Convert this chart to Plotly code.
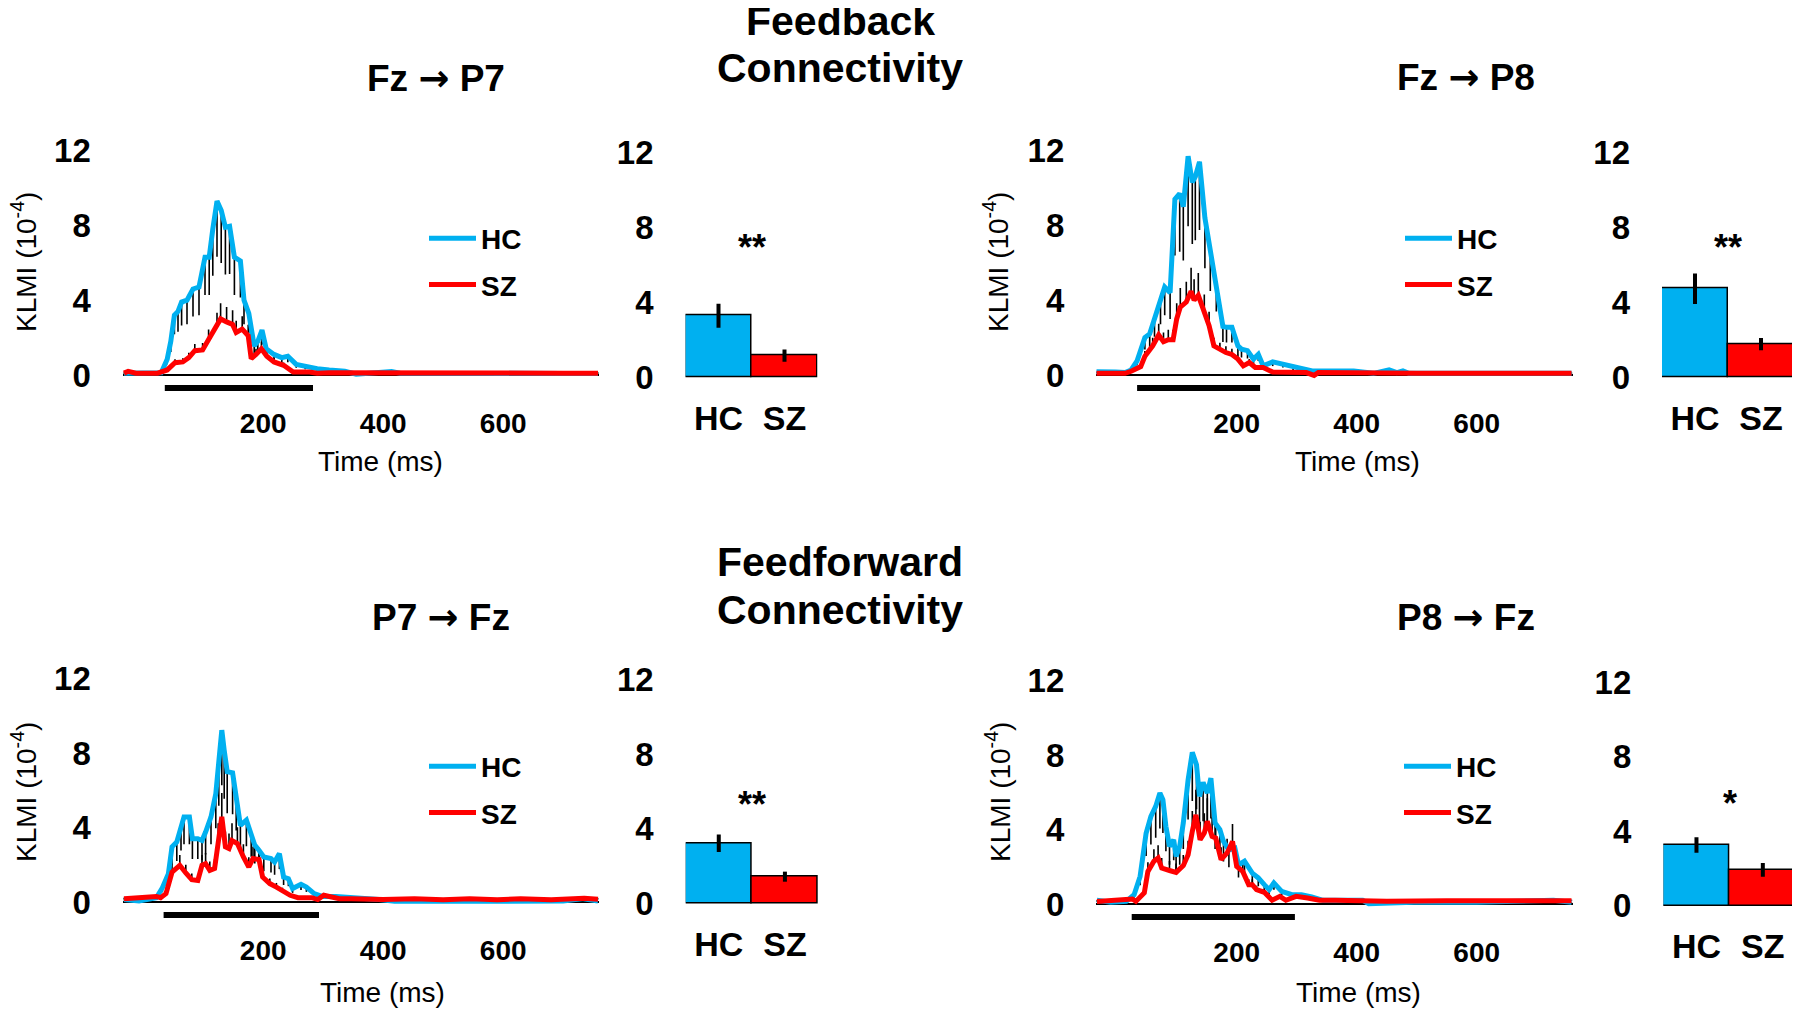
import plotly.graph_objects as go

# ---------------- data ----------------
panel_titles = ["Fz \u2192 P7", "Fz \u2192 P8", "P7 \u2192 Fz", "P8 \u2192 Fz"]
group_titles = [["Feedback", "Connectivity"], ["Feedforward", "Connectivity"]]
groups = ["HC", "SZ"]

# Fz -> P7
t_fzp7_hc = [-32, -10, 10, 30, 40, 46, 52, 58, 64, 73, 83, 93, 103, 110, 116, 123, 130, 137, 144, 152,
             162, 168, 176, 185, 191, 198, 205, 218, 231, 241, 255, 270, 290, 310, 336, 355, 388, 414,
             428, 500, 600, 700, 758]
v_fzp7_hc = [0.1, 0.1, 0.08, 0.12, 0.84, 1.8, 3.2, 3.4, 3.9, 4.0, 4.6, 4.7, 6.3, 6.3, 7.8, 9.3, 8.8, 7.9,
             7.95, 6.3, 6.1, 4.0, 3.3, 1.55, 1.8, 2.4, 1.4, 1.1, 0.93, 1.0, 0.57, 0.45, 0.34, 0.27, 0.2,
             0.04, 0.12, 0.18, 0.1, 0.08, 0.08, 0.08, 0.08]
t_fzp7_sz = [-32, -25, -12, 24, 40, 53, 66, 76, 86, 99, 109, 123, 129, 139, 149, 155, 165, 175, 180, 188,
             197, 206, 218, 234, 250, 277, 290, 310, 400, 420, 500, 600, 700, 758]
v_fzp7_sz = [0.1, 0.2, 0.1, 0.1, 0.27, 0.66, 0.7, 0.93, 1.3, 1.34, 1.9, 2.6, 3.0, 2.84, 2.7, 2.27, 2.45,
             2.1, 0.87, 1.1, 1.4, 1.0, 0.7, 0.52, 0.16, 0.16, 0.1, 0.12, 0.1, 0.15, 0.1, 0.1, 0.1, 0.1]

# Fz -> P8
t_fzp8_hc = [-34, -19, -2, 14, 24, 34, 47, 55, 63, 73, 80, 89, 97, 105, 111, 119, 126, 131, 138, 147,
             156, 166, 177, 183, 192, 202, 208, 218, 228, 236, 244, 260, 277, 294, 310, 326, 362, 395,
             428, 454, 467, 477, 487, 600, 758]
v_fzp8_hc = [0.18, 0.2, 0.16, 0.13, 0.27, 0.76, 2.0, 2.2, 3.0, 4.0, 4.7, 4.4, 9.4, 9.7, 9.0, 11.7, 10.3,
             10.6, 11.4, 8.4, 6.6, 5.0, 2.6, 2.55, 2.55, 1.56, 1.38, 1.3, 0.85, 1.1, 0.49, 0.7, 0.58,
             0.4, 0.34, 0.22, 0.22, 0.22, 0.09, 0.27, 0.13, 0.22, 0.09, 0.09, 0.09]
t_fzp8_sz = [-34, 14, 24, 40, 47, 60, 70, 78, 86, 94, 100, 106, 116, 124, 129, 136, 146, 154, 162, 172,
             182, 192, 202, 211, 221, 231, 244, 260, 297, 316, 329, 336, 500, 758]
v_fzp8_sz = [0.09, 0.09, 0.2, 0.45, 1.0, 1.56, 2.14, 1.78, 1.89, 1.89, 3.0, 3.63, 3.9, 4.48, 4.0, 4.26,
             3.36, 2.64, 1.56, 1.35, 1.2, 1.1, 0.85, 0.49, 0.67, 0.4, 0.4, 0.16, 0.16, 0.13, -0.02,
             0.13, 0.1, 0.1]

# P7 -> Fz
t_p7fz_hc = [-32, -7, 22, 32, 42, 48, 56, 63, 68, 77, 82, 91, 98, 104, 113, 121, 126, 131, 135, 140, 149,
             155, 162, 172, 180, 186, 193, 201, 213, 219, 227, 234, 242, 249, 263, 272, 285, 298, 321,
             341, 367, 393, 419, 485, 600, 700, 731, 758]
v_p7fz_hc = [0.13, 0.05, 0.23, 0.77, 1.52, 2.96, 3.23, 4.07, 4.57, 4.57, 3.4, 3.4, 3.3, 3.76, 4.57, 5.82,
             7.6, 9.23, 8.15, 7.0, 6.94, 5.65, 4.12, 4.4, 3.58, 3.05, 2.78, 2.42, 2.33, 2.15, 2.6, 1.34,
             1.25, 0.72, 0.95, 0.8, 0.45, 0.3, 0.3, 0.27, 0.18, 0.13, 0.04, 0.05, 0.05, 0.05, 0.18, 0.05]
t_p7fz_sz = [-32, 12, 22, 29, 38, 48, 61, 71, 81, 91, 98, 104, 111, 119, 125, 131, 137, 143, 148, 157,
             167, 176, 183, 193, 199, 211, 222, 232, 245, 258, 281, 291, 301, 314, 327, 347, 400, 452,
             500, 544, 590, 629, 680, 735, 758]
v_p7fz_sz = [0.18, 0.23, 0.3, 0.23, 0.45, 1.6, 1.97, 1.56, 1.2, 1.16, 1.97, 2.06, 1.7, 1.8, 3.3, 4.57,
             2.96, 2.87, 3.3, 3.14, 2.42, 1.88, 2.33, 2.28, 1.34, 0.99, 0.8, 0.6, 0.36, 0.23, 0.23, 0.13,
             0.36, 0.27, 0.18, 0.18, 0.13, 0.18, 0.12, 0.18, 0.12, 0.18, 0.12, 0.2, 0.15]

# P8 -> Fz
t_p8fz_hc = [-33, -10, 16, 29, 39, 49, 57, 65, 72, 77, 82, 88, 95, 99, 105, 111, 119, 126, 133, 138, 144,
             151, 157, 164, 172, 178, 187, 197, 203, 213, 226, 236, 246, 254, 262, 275, 292, 308, 325,
             344, 377, 410, 420, 495, 600, 728, 758]
v_p8fz_hc = [0.2, 0.09, 0.14, 0.5, 1.48, 3.8, 4.7, 5.24, 5.96, 5.6, 4.17, 3.1, 3.45, 2.56, 3.1, 4.35,
             6.67, 8.14, 7.48, 5.78, 6.53, 5.96, 6.76, 4.35, 3.99, 3.36, 2.9, 3.0, 2.1, 2.3, 1.66, 1.4,
             1.04, 0.77, 1.13, 0.68, 0.5, 0.5, 0.38, 0.2, 0.2, 0.2, 0.02, 0.09, 0.1, 0.2, 0.1]
t_p8fz_sz = [-33, 16, 26, 32, 46, 52, 62, 69, 75, 88, 99, 111, 119, 126, 132, 139, 146, 151, 159, 165,
             174, 184, 193, 200, 210, 220, 226, 233, 246, 259, 272, 282, 292, 299, 318, 338, 364, 450,
             550, 650, 758]
v_p8fz_sz = [0.14, 0.2, 0.27, 0.14, 0.6, 1.75, 2.3, 2.47, 1.93, 1.8, 1.7, 2.06, 2.65, 3.9, 4.79, 3.45,
             3.81, 4.44, 3.63, 3.54, 2.38, 2.74, 3.36, 2.02, 1.75, 1.04, 1.04, 0.77, 0.63, 0.2, 0.41, 0.2,
             0.32, 0.41, 0.32, 0.2, 0.2, 0.15, 0.18, 0.2, 0.18]

# significant windows (ms)
sig_start = [36, 34, 34, 25]
sig_end = [283, 239, 293, 297]

# bar summaries
bar_hc = [3.28, 4.72, 3.22, 3.26]
bar_hc_err = [0.64, 0.82, 0.47, 0.41]
bar_sz = [1.14, 1.76, 1.43, 1.92]
bar_sz_err = [0.33, 0.33, 0.27, 0.37]
stars = ["**", "**", "**", "*"]
star_y = [6.9, 6.9, 5.33, 5.5]

x_ticks = [200, 400, 600]
y_ticks = [0, 4, 8, 12]

curves = [
    (t_fzp7_hc, v_fzp7_hc, t_fzp7_sz, v_fzp7_sz),
    (t_fzp8_hc, v_fzp8_hc, t_fzp8_sz, v_fzp8_sz),
    (t_p7fz_hc, v_p7fz_hc, t_p7fz_sz, v_p7fz_sz),
    (t_p8fz_hc, v_p8fz_hc, t_p8fz_sz, v_p8fz_sz),
]

# ---------------- layout geometry (reference pixels) ----------------
OFF = 8                      # page body margin of the html file
W, H = 1800 - OFF, 1013 - OFF
FONT = "Liberation Sans, Arial, Helvetica, sans-serif"
ARROW_FONT = "DejaVu Sans"
HC_COL = "#00B0F0"
SZ_COL = "#FF0000"

X_RANGE = [-34, 760]
Y_RANGE = [-1.5, 12.5]
BAR_Y_RANGE = [-0.3, 12.5]
PX_PER_UNIT = [18.7, 18.7, 18.62, 18.62]

line_x_px = [(122.8, 599.2), (1096.3, 1572.7), (122.8, 599.2), (1096.3, 1572.7)]
bar_x_px = [(685.5, 817.5), (1662, 1794), (685.7, 818), (1663.3, 1796)]
zero_y_px = [375, 375, 902, 904]
bar_zero_px = [377, 377, 903.3, 905.7]


def fx(p):
    return (p - OFF) / W


def fy(p):
    return 1 - (p - OFF) / H


fig = go.Figure()
layout = dict(
    template="none",
    width=W, height=H, margin=dict(l=0, r=0, t=0, b=0, pad=0, autoexpand=False),
    paper_bgcolor="white", plot_bgcolor="rgba(0,0,0,0)",
    font=dict(family=FONT, color="black"),
    bargap=0, showlegend=True,
)

legend_names = ["legend", "legend2", "legend3", "legend4"]
legend_pos = [(424, 213.5), (1400, 213.5), (424, 741.5), (1399, 741.5)]

annotations = []

for i in range(4):
    xa = f"x{2*i+1}"
    ya = f"y{2*i+1}"
    xb = f"x{2*i+2}"
    yb = f"y{2*i+2}"
    th, vh, ts, vs = curves[i]
    lg = legend_names[i]
    ppu = PX_PER_UNIT[i]

    # error hatching (one-sided)
    fig.add_trace(go.Scatter(x=th, y=vh, xaxis=xa, yaxis=ya, mode="lines",
                             line=dict(width=0, color="rgba(0,0,0,0)"), showlegend=False,
                             hoverinfo="skip",
                             error_y=dict(type="percent", symmetric=False, value=0, valueminus=32,
                                          color="black", thickness=1.6, width=0)))
    fig.add_trace(go.Scatter(x=ts, y=vs, xaxis=xa, yaxis=ya, mode="lines",
                             line=dict(width=0, color="rgba(0,0,0,0)"), showlegend=False,
                             hoverinfo="skip",
                             error_y=dict(type="percent", symmetric=False, value=28, valueminus=0,
                                          color="black", thickness=1.6, width=0)))
    # significance window
    fig.add_trace(go.Scatter(x=[sig_start[i], sig_end[i]], y=[-0.7, -0.7], xaxis=xa, yaxis=ya,
                             mode="lines", line=dict(color="black", width=6), showlegend=False,
                             hoverinfo="skip"))
    # curves
    fig.add_trace(go.Scatter(x=th, y=vh, xaxis=xa, yaxis=ya, mode="lines", name="HC",
                             line=dict(color=HC_COL, width=5), legend=lg, legendgroup=f"hc{i}"))
    fig.add_trace(go.Scatter(x=ts, y=vs, xaxis=xa, yaxis=ya, mode="lines", name="SZ",
                             line=dict(color=SZ_COL, width=5), legend=lg, legendgroup=f"sz{i}"))
    # bars
    fig.add_trace(go.Bar(x=groups, y=[bar_hc[i], bar_sz[i]], xaxis=xb, yaxis=yb,
                         marker=dict(color=[HC_COL, SZ_COL], line=dict(color="black", width=1.5)),
                         error_y=dict(type="data", array=[bar_hc_err[i], bar_sz_err[i]],
                                      color="black", thickness=4, width=0),
                         showlegend=False, hoverinfo="skip"))

    z = zero_y_px[i]
    top = z - Y_RANGE[1] * ppu
    bot = z - Y_RANGE[0] * ppu
    bz = bar_zero_px[i]
    btop = bz - BAR_Y_RANGE[1] * ppu
    bbot = bz - BAR_Y_RANGE[0] * ppu

    common = dict(showgrid=False, zeroline=False, showline=False, ticks="", automargin=False)
    key_x = "xaxis" if i == 0 else f"xaxis{2*i+1}"
    key_y = "yaxis" if i == 0 else f"yaxis{2*i+1}"
    layout[key_x] = dict(domain=[fx(line_x_px[i][0]), fx(line_x_px[i][1])], range=X_RANGE,
                         anchor=ya, tickvals=x_ticks, ticklabelstandoff=1,
                         tickfont=dict(size=28, weight="bold", family=FONT), **common)
    layout[key_y] = dict(domain=[fy(bot), fy(top)], range=Y_RANGE, anchor=xa,
                         tickvals=y_ticks, ticklabelstandoff=31,
                         tickfont=dict(size=33, weight="bold", family=FONT), **common)
    layout[key_y]["zeroline"] = True
    layout[key_y]["zerolinecolor"] = "black"
    layout[key_y]["zerolinewidth"] = 2
    layout[f"xaxis{2*i+2}"] = dict(domain=[fx(bar_x_px[i][0]), fx(bar_x_px[i][1])],
                                   range=[-0.5, 1.5], anchor=yb, ticklabelstandoff=12,
                                   tickfont=dict(size=34, weight="bold", family=FONT), **common)
    layout[f"yaxis{2*i+2}"] = dict(domain=[fy(bbot), fy(btop)], range=BAR_Y_RANGE, anchor=xb,
                                   tickvals=y_ticks, ticklabelstandoff=31,
                                   tickfont=dict(size=33, weight="bold", family=FONT), **common)

    lx, ly = legend_pos[i]
    layout[lg] = dict(x=fx(lx), y=fy(ly), xanchor="left", yanchor="top", itemwidth=47,
                      bgcolor="rgba(0,0,0,0)", tracegroupgap=7,
                      font=dict(size=28, weight="bold", family=FONT))

    # stars
    annotations.append(dict(x=0.5, y=star_y[i], xref=xb, yref=yb, text=stars[i], showarrow=False,
                            font=dict(size=36, weight="bold", family=FONT), yanchor="middle"))

# panel titles
title_pos = [(436, 78), (1466, 77), (441, 617), (1466, 617)]
arrow_html = f"<span style='font-family:{ARROW_FONT}'>\u2192</span>"
for txt, (px_, py_) in zip(panel_titles, title_pos):
    annotations.append(dict(x=fx(px_), y=fy(py_), xref="paper", yref="paper",
                            text=txt.replace("\u2192", arrow_html),
                            showarrow=False, xanchor="center", yanchor="middle",
                            font=dict(size=37, weight="bold", family=FONT)))

# group titles (one annotation per line)
group_pos = [[(840, 21), (840, 67.7)], [(840, 561.7), (840, 610)]]
for lines, poss in zip(group_titles, group_pos):
    for txt, (px_, py_) in zip(lines, poss):
        annotations.append(dict(x=fx(px_), y=fy(py_), xref="paper", yref="paper", text=txt,
                                showarrow=False, xanchor="center", yanchor="middle",
                                font=dict(size=41, weight="bold", family=FONT)))

# axis titles
time_pos = [(380, 461.5), (1357, 461.5), (382, 992), (1358, 992)]
klmi_pos = [(24, 262), (996, 262), (24, 792), (998, 792)]
for (tx, ty), (kx, ky) in zip(time_pos, klmi_pos):
    annotations.append(dict(x=fx(tx), y=fy(ty), xref="paper", yref="paper", text="Time (ms)",
                            showarrow=False, xanchor="center", yanchor="middle",
                            font=dict(size=28, family=FONT)))
    annotations.append(dict(x=fx(kx), y=fy(ky), xref="paper", yref="paper",
                            text="KLMI (10<sup>-4</sup>)", textangle=-90,
                            showarrow=False, xanchor="center", yanchor="middle",
                            font=dict(size=28, family=FONT)))

layout["annotations"] = annotations
fig.update_layout(**layout)
fig.write_html("out.html")
